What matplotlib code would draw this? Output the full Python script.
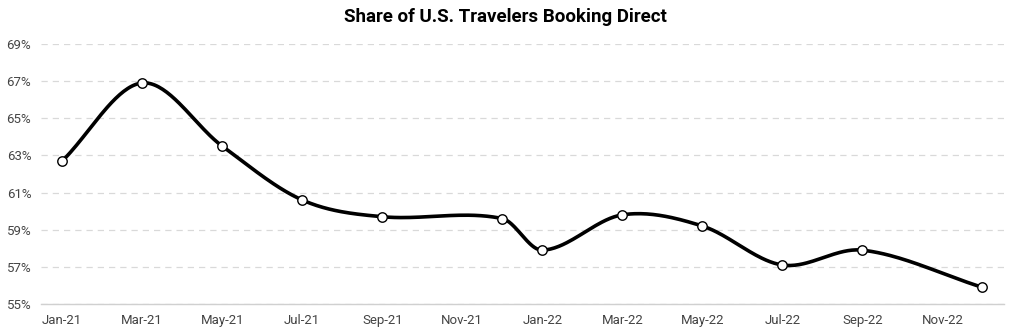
import numpy as np
import matplotlib.pyplot as plt

plt.rcParams['font.family'] = ['Roboto', 'DejaVu Sans']

# months since Jan-21 for each survey point
months = [0, 2, 4, 6, 8, 11, 12, 14, 16, 18, 20, 23]
share = [62.7, 66.9, 63.5, 60.6, 59.7, 59.6, 57.9, 59.8, 59.2, 57.1, 57.9, 55.9]

tick_months = list(range(0, 24, 2))
tick_labels = ["Jan-21", "Mar-21", "May-21", "Jul-21", "Sep-21", "Nov-21",
               "Jan-22", "Mar-22", "May-22", "Jul-22", "Sep-22", "Nov-22"]
y_ticks = [55, 57, 59, 61, 63, 65, 67, 69]


def smooth(x, y, n=40):
    # cubic hermite, tangents from neighbouring points (cardinal style)
    x = np.asarray(x, float)
    y = np.asarray(y, float)
    m = np.zeros_like(y)
    m[1:-1] = (y[2:] - y[:-2]) / (x[2:] - x[:-2])
    m[0] = (y[1] - y[0]) / (x[1] - x[0])
    m[-1] = (y[-1] - y[-2]) / (x[-1] - x[-2])
    xs, ys = [], []
    for i in range(len(x) - 1):
        h = x[i+1] - x[i]
        t = np.linspace(0, 1, n)
        h00 = 2*t**3 - 3*t**2 + 1
        h10 = t**3 - 2*t**2 + t
        h01 = -2*t**3 + 3*t**2
        h11 = t**3 - t**2
        xs.append(x[i] + t*h)
        ys.append(h00*y[i] + h10*h*m[i] + h01*y[i+1] + h11*h*m[i+1])
    return np.concatenate(xs), np.concatenate(ys)


fig = plt.figure(figsize=(10.1, 3.33), dpi=100)
ax = fig.add_axes([0.0406, 0.087, 0.953, 0.781])

sx, sy = smooth(months, share)
ax.plot(sx, sy, color="black", lw=2.6, zorder=3, solid_capstyle="round")
ax.plot(months, share, "o", ms=6.8, mfc="white", mec="black", mew=1.0, zorder=4)

ax.set_xlim(-0.53, 23.53)
ax.set_ylim(55, 69)
ax.set_yticks(y_ticks)
ax.set_yticklabels([f"{v}%" for v in y_ticks])
ax.set_xticks(tick_months)
ax.set_xticklabels(tick_labels)

ax.grid(axis="y", color="#d9d9d9", ls=(0, (5, 4)), lw=0.9)
ax.set_axisbelow(True)
for s in ["top", "right", "left"]:
    ax.spines[s].set_visible(False)
ax.spines["bottom"].set_color("#d0d0d0")
ax.spines["bottom"].set_linewidth(1.0)
ax.tick_params(length=0, labelsize=9.5, colors="#444444")
ax.tick_params(axis="x", pad=7)
ax.tick_params(axis="y", pad=7)

fig.suptitle("Share of U.S. Travelers Booking Direct", fontsize=13.5,
             fontweight="bold", y=0.975)

fig.savefig("out.png", dpi=100)
